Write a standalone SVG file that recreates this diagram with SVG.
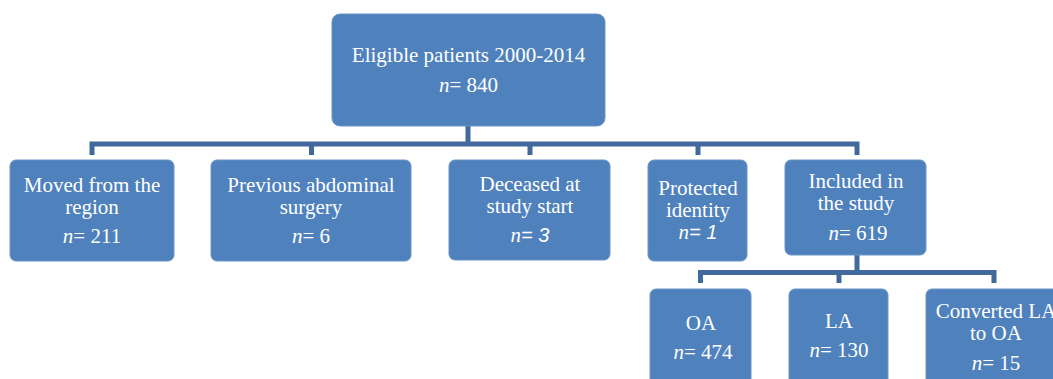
<svg xmlns="http://www.w3.org/2000/svg" width="1053" height="379" viewBox="0 0 1053 379">
<style>
.box{fill:#4f81bd;stroke:#6a95c9;stroke-width:1}
.t{font-family:"Liberation Serif",serif;font-size:21px;fill:#ffffff;text-anchor:middle}
.i{font-style:italic}
.s{font-family:"Liberation Sans",sans-serif;font-style:italic;font-size:20px}
.c{fill:none;stroke:#41699c;stroke-width:5;stroke-linejoin:miter}
</style>
<g id="connectors">
<path class="c" d="M468,126 V144 M92,155 V144 H857 V155 M311.5,144 V155 M530,144 V155 M698,144 V155"/>
<path class="c" d="M857,255 V272.5 M700.5,283 V272.5 H994 V283 M839,272.5 V283"/>
</g>
<g id="eligible">
<rect class="box" x="332" y="14" width="273" height="112" rx="8"/>
<text class="t" x="468.5" y="62">Eligible patients 2000-2014</text>
<text class="t" x="468.5" y="92"><tspan class="i">n</tspan>= 840</text>
</g>
<g id="moved">
<rect class="box" x="10" y="160" width="164" height="101" rx="6"/>
<text class="t" x="92" y="192">Moved from the</text>
<text class="t" x="92" y="214">region</text>
<text class="t" x="92" y="243"><tspan class="i">n</tspan>= 211</text>
</g>
<g id="previous">
<rect class="box" x="211" y="160" width="200" height="101" rx="6"/>
<text class="t" x="311" y="192">Previous abdominal</text>
<text class="t" x="311" y="214">surgery</text>
<text class="t" x="311" y="243"><tspan class="i">n</tspan>= 6</text>
</g>
<g id="deceased">
<rect class="box" x="449" y="160" width="161" height="100" rx="6"/>
<text class="t" x="530" y="191">Deceased at</text>
<text class="t" x="530" y="213">study start</text>
<text class="t" x="530" y="242"><tspan class="i">n</tspan><tspan class="s">= 3</tspan></text>
</g>
<g id="protected">
<rect class="box" x="648" y="160" width="99" height="101" rx="6"/>
<text class="t" x="698" y="195">Protected</text>
<text class="t" x="698" y="217">identity</text>
<text class="t" x="698" y="239"><tspan class="i">n</tspan><tspan class="s">= 1</tspan></text>
</g>
<g id="included">
<rect class="box" x="785" y="160" width="141" height="95" rx="6"/>
<text class="t" x="856" y="188">Included in</text>
<text class="t" x="856" y="210">the study</text>
<text class="t" x="858" y="240"><tspan class="i">n</tspan>= 619</text>
</g>
<g id="oa">
<rect class="box" x="650" y="289" width="101" height="120" rx="6"/>
<text class="t" x="701" y="330">OA</text>
<text class="t" x="703" y="359"><tspan class="i">n</tspan>= 474</text>
</g>
<g id="la">
<rect class="box" x="789" y="289" width="99" height="120" rx="6"/>
<text class="t" x="839" y="328">LA</text>
<text class="t" x="839" y="357"><tspan class="i">n</tspan>= 130</text>
</g>
<g id="converted">
<rect class="box" x="926" y="289" width="140" height="120" rx="6"/>
<text class="t" x="996" y="318">Converted LA</text>
<text class="t" x="996" y="340">to OA</text>
<text class="t" x="996" y="370"><tspan class="i">n</tspan>= 15</text>
</g>
</svg>
